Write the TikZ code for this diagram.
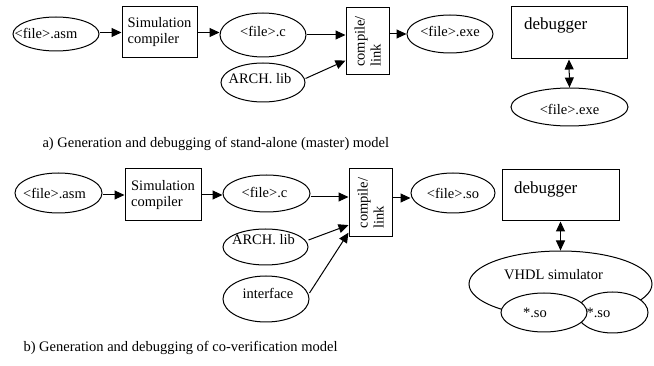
\documentclass[tikz,border=0pt]{standalone}
\usepackage{fontspec}
\setmainfont{Liberation Serif}
\usetikzlibrary{shapes.geometric,arrows.meta,calc}
\newcommand{\fsn}{\fontsize{14.5}{16}\selectfont}
\newcommand{\fsd}{\fontsize{17}{19}\selectfont}
\newcommand{\fl}[1]{\textless file\textgreater.#1}
\tikzset{
  ell/.style 2 args={ellipse,draw,fill=white,inner sep=0pt,minimum width=#1,minimum height=#2},
  box/.style 2 args={rectangle,draw,fill=white,inner sep=0pt,minimum width=#1,minimum height=#2},
  lbl/.style={inner sep=0pt,font=\fsn},
  arr/.style={-{Triangle[length=10pt,width=9pt]}},
  darr/.style={{Triangle[length=10pt,width=9pt]}-{Triangle[length=10pt,width=9pt]}},
  every path/.style={line width=1pt}
}
\begin{document}
\begin{tikzpicture}[x=1pt,y=-1pt]
\useasboundingbox (0,0) rectangle (654,366);
% ---------- a ----------
\node[ell={86pt}{34pt},label={[lbl,xshift=-10pt]center:\fl{asm}}] (asm) at (56,34) {};
\node[box={75pt}{51pt},font=\fsn,align=left] (sim) at (159.5,32.5) {Simulation\\compiler};
\node[ell={86pt}{44pt},label={[lbl,yshift=3pt]center:\fl{c}}] (c) at (263,35) {};
\node[ell={84pt}{39pt},label={[lbl,xshift=-3pt,yshift=4pt]center:ARCH. lib}] (arch) at (263,82.5) {};
\node[box={67pt}{43pt},font=\fsn,align=left,rotate=90] (link) at (367.5,41.5) {compile/\\link};
\node[ell={86pt}{38pt},label={[lbl,yshift=2pt]center:\fl{exe}}] (exe) at (450,34) {};
\node[box={116pt}{52pt}] (dbg) at (569,33) {};
\node[lbl,font=\fsd,anchor=north west] (dbgt) at ($(dbg.north west)+(13,11)$) {debugger};
\node[ell={117pt}{38pt},label={[lbl,yshift=-2pt]center:\fl{exe}}] (exe2) at (569.5,107) {};
\draw[arr] (asm.east |- sim) -- (sim);
\draw[arr] (sim) -- (sim -| c.west);
\draw[arr] (c.east) -- (c.east -| link.north);
\draw[arr] ($(arch.east)+(0,-4)$) -- ($(link.north east)!0.78!(link.north west)$);
\draw[arr] (link.south |- exe) -- (exe.west);
\draw[darr] (dbg.south) -- (exe2.north);
\node[lbl,anchor=west] (capa) at (42,144) {a) Generation and debugging of stand-alone (master) model};
% ---------- b ----------
\node[ell={87pt}{40pt},label={[lbl,xshift=-4pt]center:\fl{asm}}] (asmb) at (58.5,193) {};
\node[box={76pt}{52pt},font=\fsn,align=left] (simb) at (163,195) {Simulation\\compiler};
\node[ell={87pt}{37pt},label={[lbl,xshift=-2pt,yshift=1pt]center:\fl{c}}] (cb) at (266.5,193.5) {};
\node[ell={85pt}{36pt},label={[lbl,xshift=-2pt,yshift=7pt]center:ARCH. lib}] (archb) at (265.5,247) {};
\node[ell={86pt}{46pt},label={[lbl,xshift=2pt,yshift=6pt]center:interface}] (iface) at (266,299) {};
\node[box={68pt}{43pt},font=\fsn,align=left,rotate=90] (linkb) at (370.5,203) {compile/\\link};
\node[ell={84pt}{40pt},label={[lbl]center:\fl{so}}] (so) at (453,193) {};
\node[box={117pt}{51pt}] (dbgb) at (560.5,195.5) {};
\node[lbl,font=\fsd,anchor=north west] (dbgbt) at ($(dbgb.north west)+(12,12)$) {debugger};
\node[ell={183pt}{66pt},label={[lbl,xshift=-7pt,yshift=9pt]center:VHDL simulator}] (vhdl) at (560.5,284) {};
\node[ell={71pt}{41pt},label={[lbl,xshift=-14pt]center:*.so}] (sob) at (612.5,312.5) {};
\node[ell={86pt}{39pt},label={[lbl,xshift=-9pt]center:*.so}] (soa) at (544,312.5) {};
\draw[arr] (asmb.east |- simb) -- (simb);
\draw[arr] (simb) -- (simb -| cb.west);
\draw[arr] (cb.east |- 0,197) -- (linkb.north |- 0,197);
\draw[arr] ($(archb.east)+(0,-7)$) -- ($(linkb.north east)!0.82!(linkb.north west)$);
\draw[arr] ($(iface.east)+(0,-6)$) -- ($(linkb.north east)!0.93!(linkb.north west)$);
\draw[arr] (linkb.south |- 0,198) -- (so.west |- 0,198);
\draw[darr] (dbgb.south) -- (vhdl.north);
\node[lbl,anchor=west] (capb) at (23,348) {b) Generation and debugging of co-verification model};
\end{tikzpicture}
\end{document}
